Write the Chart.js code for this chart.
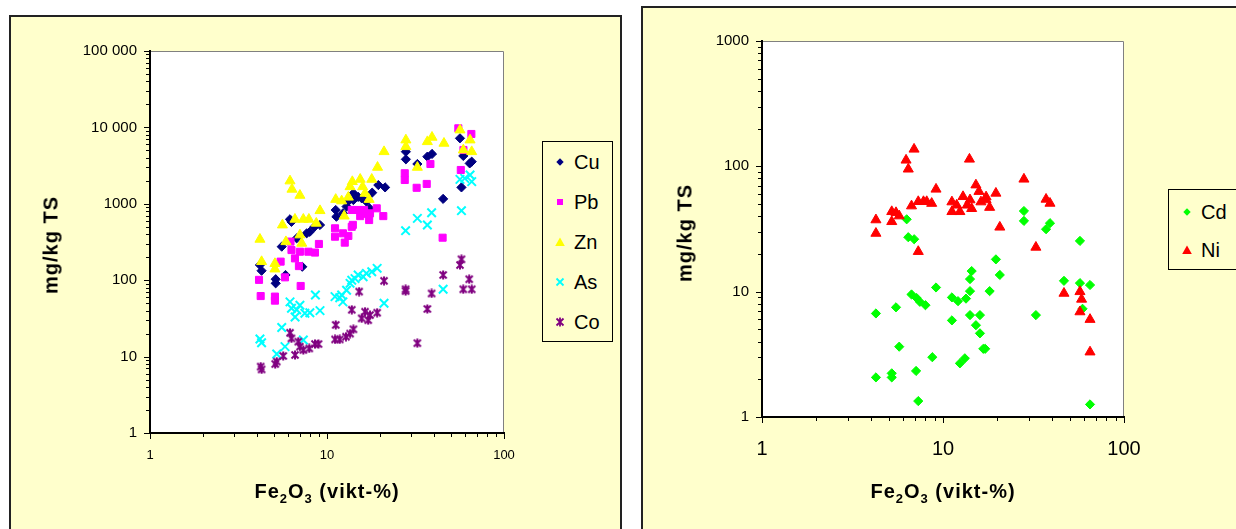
<!DOCTYPE html>
<html>
<head>
<meta charset="utf-8">
<script src="https://cdn.jsdelivr.net/npm/chart.js@4.4.1/dist/chart.umd.min.js"></script>
<style>
  body { margin: 0; width: 1236px; height: 529px; overflow: hidden; position: relative; background: #fff;
         font-family: "Liberation Sans", Arial, sans-serif; color: #000; }
  .panel { position: absolute; box-sizing: border-box; background: #ffffcc; border: 2px solid #222; }
  canvas { position: absolute; top: 0; }
  .ytitle { position: absolute; font-weight: bold; font-size: 20px; letter-spacing: 1px; white-space: nowrap;
            transform: translate(-50%, -50%) rotate(-90deg); }
  .xtitle { position: absolute; font-weight: bold; font-size: 20px; letter-spacing: 1px; line-height: 20px;
            white-space: nowrap; transform: translateX(-50%); }
  .xtitle sub { font-size: 13px; vertical-align: -5px; line-height: 0; }
  .legend { position: absolute; box-sizing: border-box; border: 1px solid #000; background: #ffffcc; }
  .item { position: absolute; font-size: 20px; line-height: 20px; white-space: nowrap; }
  .item svg { position: absolute; }
</style>
</head>
<body>
<div class="panel" style="left:9px; top:15px; width:613px; height:600px;"></div>
<div class="panel" style="left:641px; top:6px; width:700px; height:600px;"></div>

<canvas id="left" width="621" height="529" style="left:0;"></canvas>
<canvas id="right" width="614" height="529" style="left:622px;"></canvas>

<div class="ytitle" style="left:51px; top:245px;">mg/kg TS</div>
<div class="xtitle" style="left:327px; top:481px;">Fe<sub>2</sub>O<sub>3</sub> (vikt-%)</div>
<div class="ytitle" style="left:685px; top:233px;">mg/kg TS</div>
<div class="xtitle" style="left:943px; top:481px;">Fe<sub>2</sub>O<sub>3</sub> (vikt-%)</div>

<div class="legend" id="legLeft" style="left:542px; top:141px; width:71px; height:201px;"></div>
<div class="legend" id="legRight" style="left:1168px; top:189px; width:100px; height:81px;"></div>

<script>
// [Fe2O3 vikt-%, mg/kg TS]
const cu = [[4.18,158],[4.27,133],[5.13,103],[5.13,91],[5.55,275],[5.83,117],[6.18,627],[6.3,580],[6.74,353],
  [7.25,150],[7.68,411],[8.0,430],[8.5,500],[9.13,528],[11.2,830],[11.3,678],[12.3,750],[12.9,920],[13.2,1080],
  [14.1,1370],[14.1,1120],[15.0,1230],[15.7,1180],[16.7,1070],[17.4,870],[18.0,1400],[19.5,1760],[21.3,1640],
  [27.9,3820],[27.9,4810],[32.4,3320],[36.9,4140],[39.2,4490],[45.3,1160],[56.4,7200],[57.5,1640],[58.9,4230],
  [64,3380],[65.7,3560]];
const pb = [[4.13,101],[4.22,62],[5.08,61],[5.08,54],[5.47,175],[5.79,109],[6.22,320],[6.3,248],[6.59,193],
  [6.94,153],[7.03,236],[7.1,84],[7.85,236],[8.55,230],[9.0,298],[11.1,478],[11.1,371],[12.3,411],[12.6,310],
  [13.2,380],[13.8,500],[14.0,530],[13.8,830],[15.0,830],[15.4,690],[16.2,830],[16.4,740],[17.3,613],[17.5,750],
  [19.1,873],[20.8,690],[27.5,2510],[27.5,2050],[32.1,1620],[36.6,1820],[38.4,3320],[45.0,360],[55.2,9730],
  [57.0,2770],[59.0,5060],[65.4,8200]];
const zn = [[4.18,343],[4.27,175],[5.08,165],[5.08,140],[5.6,528],[5.86,319],[6.18,1990],[6.34,1550],[6.59,627],
  [7.03,1290],[7.03,391],[7.2,304],[7.35,627],[7.9,627],[8.7,556],[9.13,813],[11.2,1140],[12.1,1090],[12.5,690],
  [13.2,1220],[13.5,1670],[13.9,1950],[15.4,2090],[15.9,1670],[16.4,1370],[17.3,1140],[17.9,2090],[19.3,3000],
  [21.0,4810],[27.9,6840],[27.9,5590],[32.4,3000],[36.9,6500],[39.2,7420],[45.8,6190],[56.4,9250],[58.9,5060],
  [64.3,6840],[65.7,4810]];
const as = [[4.18,17],[4.27,15.2],[5.2,10.8],[5.55,24],[5.79,13.5],[6.18,52],[6.3,43],[6.6,33],[6.74,41],[7.03,47],
  [7.35,16.5],[7.5,37],[8.0,37.5],[8.6,64],[9.13,40],[11.1,61],[11.8,59],[12.1,64],[12.3,52],[12.9,74],[13.5,91],
  [13.8,100],[14.4,105],[15.0,117],[16.0,111],[16.7,123],[17.9,129],[19.2,143],[21.0,50],[27.8,445],[32.4,645],
  [36.9,528],[39.0,765],[45.3,76],[56.4,2090],[57.5,813],[60,2150],[64.3,2380],[65.7,1950]];
const co = [[4.22,7.4],[4.27,6.8],[5.1,8.0],[5.2,8.6],[5.66,10.2],[6.18,20.5],[6.3,17.3],[6.6,10.5],[6.88,15.7],
  [7.03,13.5],[7.35,12.2],[7.94,12.8],[8.55,14.6],[8.95,14.6],[11.1,16.8],[11.2,26],[11.8,16.8],[12.8,18.2],
  [13.5,20],[13.8,41],[14.1,22.8],[15.2,71],[15.7,31.7],[16.4,38.7],[17.1,30],[17.5,35],[19.2,37.5],[21.0,98],
  [27.8,76],[27.8,72],[32.4,15],[36.9,42],[39.0,67],[45.3,117],[56.4,158],[57.5,188],[58.9,76],[63.6,103],[65.7,76]];

const cd = [[4.26,6.7],[4.26,2.07],[5.21,2.23],[5.21,2.07],[5.5,7.5],[5.73,3.64],[6.3,37.8],[6.43,27.2],[6.7,9.5],
  [6.93,26.2],[7.1,2.33],[7.15,8.9],[7.3,1.34],[7.45,8.3],[8.0,7.8],[8.73,3.0],[9.15,10.8],[11.2,9.0],[11.2,5.9],
  [12.1,8.4],[12.4,2.68],[13.2,2.94],[13.4,8.8],[14.1,10.1],[14.1,12.6],[14.1,6.5],[14.4,14.6],[15.2,5.4],[16.0,6.5],
  [16.0,4.65],[16.7,3.5],[17.1,3.5],[18.1,10.1],[19.6,18.1],[20.6,13.6],[28,44],[28,36.7],[32.6,6.5],[37.1,31.5],
  [39,35.2],[46.6,12.2],[57.1,25.4],[57.1,11.7],[59,7.3],[64.9,11.3],[64.9,1.26]];
const ni = [[4.26,37.4],[4.26,29.2],[5.21,43.5],[5.21,36.2],[5.5,42.7],[5.73,40.2],[6.25,112],[6.43,95],[6.7,48.3],
  [6.92,137],[7.3,20.9],[7.3,52.3],[7.8,52.3],[8.13,52.3],[8.66,50.6],[9.15,65.7],[11.2,52],[11.2,43.5],[11.9,49],
  [12.4,43.5],[12.9,57.3],[13.6,49],[14.0,114],[14.1,54],[14.4,46],[15.2,71],[15.8,63],[16.2,52],[17.3,57],
  [17.3,54],[18.1,47],[19.6,61],[20.6,32.7],[28,79],[32.6,22.6],[37.1,54.6],[39,50.7],[46.6,9.7],[57.1,10],
  [58.3,8.7],[57.1,6.9],[64.9,6.0],[64.9,3.3]];

const xMajors = [1, 10, 100];
const xLabels = ["1", "10", "100"];
const yMajorsLeft = [1, 10, 100, 1000, 10000, 100000];
const yLabelsLeft = ["1", "10", "100", "1000", "10 000", "100 000"];
const yMajorsRight = [1, 10, 100, 1000];
const yLabelsRight = ["1", "10", "100", "1000"];

const FONT = "'Liberation Sans', Arial, sans-serif";

// Excel style "*" marker
function asteriskMarker(color) {
    const c = document.createElement("canvas");
    c.width = 10; c.height = 10;
    const g = c.getContext("2d");
    g.strokeStyle = color;
    g.lineWidth = 2;
    g.beginPath();
    g.moveTo(1.5, 1.5); g.lineTo(8.5, 8.5);
    g.moveTo(8.5, 1.5); g.lineTo(1.5, 8.5);
    g.moveTo(5, 0.5); g.lineTo(5, 9.5);
    g.stroke();
    return c;
}

const leftSeries = [
    { name: "Cu", pts: cu, color: "#000080", shape: "diamond", r: 4.6 },
    { name: "Pb", pts: pb, color: "#ff00ff", shape: "square", r: 5 },
    { name: "Zn", pts: zn, color: "#ffff00", shape: "triangle", r: 5.8 },
    { name: "As", pts: as, color: "#00ffff", shape: "cross", r: 6 },
    { name: "Co", pts: co, color: "#800080", shape: "asterisk", r: 5 }
];
const rightSeries = [
    { name: "Cd", pts: cd, color: "#00ff00", shape: "diamond", r: 4.6 },
    { name: "Ni", pts: ni, color: "#ff0000", shape: "triangle", r: 5.8 }
];

function toDataset(s, i, all) {
    const styles = { diamond: "rectRot", square: "rect", triangle: "triangle", cross: "crossRot" };
    return {
        label: s.name,
        data: s.pts.map(([x, y]) => ({ x, y })),
        pointStyle: s.shape === "asterisk" ? asteriskMarker(s.color) : styles[s.shape],
        pointRadius: s.r,
        pointHoverRadius: s.r,
        backgroundColor: s.color,
        borderColor: s.color,
        pointBorderWidth: s.shape === "cross" ? 2 : 1,
        order: all.length - i
    };
}

function logTicks(majors) {
    const out = [];
    majors.forEach((m, i) => {
        if (i === majors.length - 1) { out.push(m); return; }
        for (let k = 1; k < 10; k++) out.push(m * k);
    });
    return out;
}

function logAxis(pos, majors, labels, size, fontSize, pad) {
    const all = logTicks(majors);
    return {
        type: "logarithmic",
        position: pos,
        min: majors[0],
        max: majors[majors.length - 1],
        afterBuildTicks: (s) => { s.ticks = all.map((v) => ({ value: v, major: majors.includes(v) })); },
        afterFit: (s) => { if (pos === "left") s.width = size; else s.height = size; },
        ticks: {
            autoSkip: false, maxRotation: 0, minRotation: 0, padding: pad, color: "#000",
            font: { family: FONT, size: fontSize },
            callback: (v) => { const i = majors.indexOf(v); return i >= 0 ? labels[i] : ""; }
        },
        grid: { display: false },
        border: { display: true, color: "#000", width: 2 }
    };
}

const plotFrame = {
    id: "plotFrame",
    beforeDraw(chart) {
        const { ctx, chartArea: a } = chart;
        ctx.save();
        ctx.fillStyle = "#fff";
        ctx.fillRect(a.left, a.top, a.right - a.left, a.bottom - a.top);
        ctx.strokeStyle = "#808080";
        ctx.lineWidth = 1;
        ctx.beginPath();
        ctx.moveTo(a.left, a.top + 0.5);
        ctx.lineTo(a.right - 0.5, a.top + 0.5);
        ctx.lineTo(a.right - 0.5, a.bottom);
        ctx.stroke();
        ctx.restore();
    }
};

const tickMarks = {
    id: "tickMarks",
    afterDraw(chart) {
        const { ctx, chartArea: a, scales } = chart;
        ctx.save();
        ctx.strokeStyle = "#000";
        ctx.lineWidth = 1;
        ctx.beginPath();
        scales.x.ticks.forEach((t) => {
            const px = Math.round(scales.x.getPixelForValue(t.value)) + 0.5;
            ctx.moveTo(px, a.bottom);
            ctx.lineTo(px, a.bottom + (t.major ? 6 : 4));
        });
        scales.y.ticks.forEach((t) => {
            const py = Math.round(scales.y.getPixelForValue(t.value)) + 0.5;
            ctx.moveTo(a.left - (t.major ? 6 : 4), py);
            ctx.lineTo(a.left, py);
        });
        ctx.stroke();
        ctx.restore();
    }
};

function makeChart(id, series, padding, xAxis, yAxis) {
    return new Chart(document.getElementById(id), {
        type: "scatter",
        data: { datasets: series.map(toDataset) },
        options: {
            responsive: false,
            animation: false,
            events: [],
            layout: { padding },
            plugins: { legend: { display: false }, tooltip: { enabled: false } },
            scales: { x: xAxis, y: yAxis }
        },
        plugins: [plotFrame, tickMarks]
    });
}

makeChart("left", leftSeries, { left: 0, top: 51, right: 117, bottom: 0 },
    logAxis("bottom", xMajors, xLabels, 96, 13, 7),
    logAxis("left", yMajorsLeft, yLabelsLeft, 150, 15, 5));

makeChart("right", rightSeries, { left: 0, top: 41, right: 112, bottom: 0 },
    logAxis("bottom", xMajors, xLabels, 112, 20, 12),
    logAxis("left", yMajorsRight, yLabelsRight, 140, 15, 5));

// legends
function symbolSvg(shape, color) {
    const body = {
        diamond: `<polygon points="6,2.3 9.7,6 6,9.7 2.3,6" fill="${color}"/>`,
        square: `<rect x="3" y="3" width="6" height="6" fill="${color}"/>`,
        triangle: `<polygon points="6,1.5 10.8,10 1.2,10" fill="${color}"/>`,
        cross: `<path d="M2.5,2.5L9.5,9.5M9.5,2.5L2.5,9.5" stroke="${color}" stroke-width="1.8"/>`,
        asterisk: `<path d="M2.5,2.5L9.5,9.5M9.5,2.5L2.5,9.5M6,1.5L6,10.5" stroke="${color}" stroke-width="1.8"/>`
    }[shape];
    return `<svg width="12" height="12" viewBox="0 0 12 12">${body}</svg>`;
}

function buildLegend(id, series, firstY, stepY, symX, textX) {
    const box = document.getElementById(id);
    series.forEach((s, i) => {
        const cy = firstY + i * stepY;
        const row = document.createElement("div");
        row.className = "item";
        row.style.left = "0px";
        row.style.top = (cy - 10) + "px";
        row.innerHTML = `<span style="position:absolute;left:${symX - 6}px;top:4px;">${symbolSvg(s.shape, s.color)}</span>` +
            `<span style="position:absolute;left:${textX}px;top:0;">${s.name}</span>`;
        box.appendChild(row);
    });
}

buildLegend("legLeft", leftSeries, 20, 40, 17, 31);
buildLegend("legRight", rightSeries, 22, 38.3, 18, 32);
</script>
</body>
</html>
